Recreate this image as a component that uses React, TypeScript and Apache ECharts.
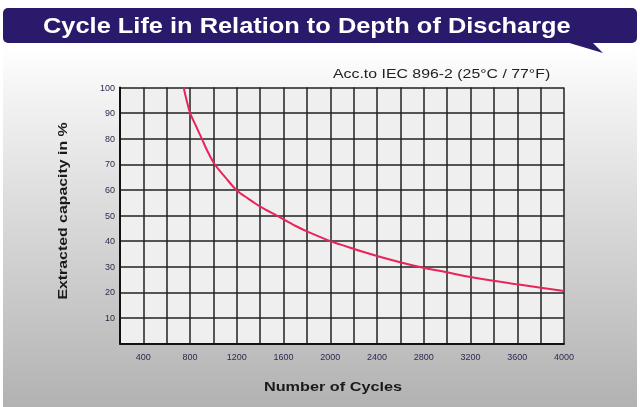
import React, { useEffect, useRef } from "react";
import * as echarts from "echarts";

const cycles = [745, 770, 800, 850, 900, 950, 1010, 1100, 1195, 1300, 1400, 1550, 1700, 1800, 2000, 2200, 2400, 2700, 3000, 3200, 3600, 4000];
const capacity = [100, 95, 90, 85, 80, 75, 70, 65, 60, 56.5, 53.5, 49.8, 46, 43.8, 40, 37, 34.2, 30.6, 27.8, 26, 23.1, 20.5];
const title = "Cycle Life in Relation to Depth of Discharge";
const note = "Acc.to IEC 896-2 (25°C / 77°F)";
const xName = "Number of Cycles";
const yName = "Extracted capacity in %";

const FONT = 'Arial, "Liberation Sans", sans-serif';

export default function App() {
  const ref = useRef<HTMLDivElement>(null);
  useEffect(() => {
    if (!ref.current) return;
    const chart = echarts.init(ref.current, undefined, { renderer: "svg" });
    const data = cycles.map((c, i) => [c, capacity[i]]);
    chart.setOption({
      animation: false,
      graphic: [
        {
          type: "rect",
          z: -10,
          shape: { x: 3, y: 48, width: 634, height: 359 },
          style: {
            fill: new echarts.graphic.LinearGradient(0, 0, 0, 1, [
              { offset: 0, color: "#ffffff" },
              { offset: 0.12, color: "#f4f4f4" },
              { offset: 1, color: "#b2b2b2" },
            ]),
          },
          silent: true,
        },
        {
          type: "rect",
          shape: { x: 3, y: 8, width: 634, height: 35, r: 5 },
          style: { fill: "#2b1a6c" },
        },
        {
          type: "polygon",
          shape: { points: [[566, 42], [592, 42], [603, 53]] },
          style: { fill: "#2b1a6c" },
        },
        {
          type: "text",
          x: 43,
          y: 25,
          scaleX: 1.155,
          style: {
            text: title,
            fill: "#ffffff",
            font: `bold 22px ${FONT}`,
            verticalAlign: "middle",
          },
        },
        {
          type: "text",
          x: 333,
          y: 74,
          scaleX: 1.22,
          style: {
            text: note,
            fill: "#222222",
            font: `13px ${FONT}`,
            verticalAlign: "middle",
          },
        },
        {
          type: "text",
          x: 333,
          y: 387,
          scaleX: 1.25,
          style: {
            text: xName,
            fill: "#1a1a1a",
            font: `bold 13px ${FONT}`,
            align: "center",
            verticalAlign: "middle",
          },
        },
        {
          type: "text",
          x: 63,
          y: 211,
          rotation: Math.PI / 2,
          scaleX: 1.22,
          style: {
            text: yName,
            fill: "#1a1a1a",
            font: `bold 13px ${FONT}`,
            align: "center",
            verticalAlign: "middle",
          },
        },
      ],
      grid: {
        left: 120,
        top: 87.5,
        width: 444,
        height: 256,
        show: true,
        backgroundColor: "#efefef",
        borderWidth: 0,
      },
      xAxis: {
        type: "value",
        min: 200,
        max: 4000,
        interval: 200,
        axisLine: { show: true, lineStyle: { color: "#111", width: 2 } },
        axisTick: { show: false },
        splitLine: { show: true, lineStyle: { color: "#222", width: 1.5 } },
        axisLabel: {
          margin: 9,
          fontSize: 9,
          color: "#2a2a50",
          fontFamily: FONT,
          formatter: (v: number) => (v % 400 === 0 ? String(v) : ""),
        },
      },
      yAxis: {
        type: "value",
        min: 0,
        max: 100,
        interval: 10,
        axisLine: { show: true, lineStyle: { color: "#111", width: 2 } },
        axisTick: { show: false },
        splitLine: { show: true, lineStyle: { color: "#222", width: 1.5 } },
        axisLabel: {
          margin: 5,
          fontSize: 9,
          color: "#2a2a50",
          fontFamily: FONT,
          formatter: (v: number) => (v === 0 ? "" : String(v)),
        },
      },
      series: [
        {
          type: "line",
          data,
          smooth: 0.3,
          showSymbol: false,
          lineStyle: { color: "#e8245a", width: 2 },
          z: 5,
        },
      ],
    });
    return () => chart.dispose();
  }, []);
  return (
    <div
      ref={ref}
      style={{ position: "fixed", left: 0, top: 0, width: 640, height: 407 }}
    />
  );
}
